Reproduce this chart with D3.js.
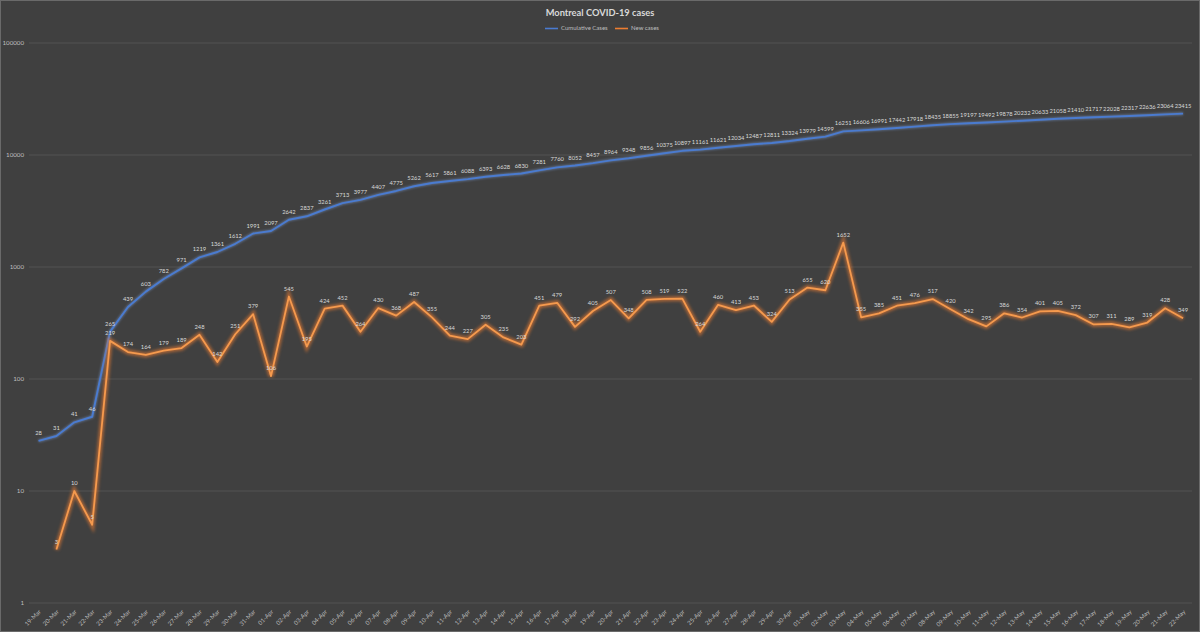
<!DOCTYPE html>
<html>
<head>
<meta charset="utf-8">
<script src="https://cdn.jsdelivr.net/npm/d3@7"></script>
<style>
html,body{margin:0;padding:0;background:#404040;}
svg{display:block;}
</style>
</head>
<body>
<svg id="chart" width="1200" height="632"></svg>
<script>
const dates = ["19-Mar","20-Mar","21-Mar","22-Mar","23-Mar","24-Mar","25-Mar","26-Mar","27-Mar","28-Mar","29-Mar","30-Mar","31-Mar",
"01-Apr","02-Apr","03-Apr","04-Apr","05-Apr","06-Apr","07-Apr","08-Apr","09-Apr","10-Apr","11-Apr","12-Apr","13-Apr","14-Apr","15-Apr",
"16-Apr","17-Apr","18-Apr","19-Apr","20-Apr","21-Apr","22-Apr","23-Apr","24-Apr","25-Apr","26-Apr","27-Apr","28-Apr","29-Apr","30-Apr",
"01-May","02-May","03-May","04-May","05-May","06-May","07-May","08-May","09-May","10-May","11-May","12-May","13-May","14-May","15-May",
"16-May","17-May","18-May","19-May","20-May","21-May","22-May"];

const cumulative = [28,31,41,46,265,439,603,782,971,1219,1361,1612,1991,
2097,2642,2837,3261,3713,3977,4407,4775,5262,5617,5861,6088,6393,6628,6830,
7281,7760,8052,8457,8964,9348,9856,10375,10897,11161,11621,12034,12487,12811,13324,
13979,14599,16251,16606,16991,17442,17918,18435,18855,19197,19492,19878,20232,20633,21058,
21410,21717,22028,22317,22636,23064,23415];

// New cases start on 20-Mar
const newCases = [null,3,10,5,219,174,164,179,189,248,142,251,379,
106,545,195,424,452,264,430,368,487,355,244,227,305,235,203,
451,479,292,405,507,348,508,519,522,264,460,413,453,324,513,
655,620,1652,355,385,451,476,517,420,342,295,386,354,401,405,
372,307,311,289,319,428,349];

const yTicks = [1,10,100,1000,10000,100000];
const title = "Montreal COVID-19 cases";
const seriesNames = ["Cumulative Cases","New cases"];

const W = 1200, H = 632;
const svg = d3.select("#chart");
const font = "Lato, 'Liberation Sans', sans-serif";
const textCol = "#d9d9d9";
const axisCol = "#bfbfbf";

svg.append("rect").attr("x",0.5).attr("y",0.5).attr("width",W-1).attr("height",H-1)
  .attr("fill","#404040").attr("stroke","#6a6a6a").attr("stroke-width",1);

const defs = svg.append("defs");
const f1 = defs.append("filter").attr("id","glow").attr("x","-5%").attr("y","-5%").attr("width","110%").attr("height","110%");
f1.append("feGaussianBlur").attr("stdDeviation",1.6);
const f2 = defs.append("filter").attr("id","glowb").attr("x","-5%").attr("y","-5%").attr("width","110%").attr("height","110%");
f2.append("feGaussianBlur").attr("stdDeviation",0.8);

const x = d3.scalePoint().domain(dates).range([29.6,1192]).padding(0.5);
const y = d3.scaleLog().domain([1,100000]).range([603,43]);

// gridlines
svg.append("g").selectAll("line").data(yTicks).join("line")
  .attr("x1",29).attr("x2",1192)
  .attr("y1",d=>y(d)).attr("y2",d=>y(d))
  .attr("stroke","#525252").attr("stroke-width",1);

// y axis labels
const yAxis = d3.axisLeft(y).tickValues(yTicks).tickFormat(d3.format("d")).tickSize(0).tickPadding(0);
const yg = svg.append("g").attr("transform","translate(24,0)").call(yAxis);
yg.select(".domain").remove();
yg.selectAll("text").attr("fill",axisCol).attr("font-size","6.2px").attr("font-family",font).attr("dy","0.32em");

// x axis labels
const xAxis = d3.axisBottom(x).tickSize(0).tickPadding(0);
const xg = svg.append("g").attr("transform","translate(0,611)").call(xAxis);
xg.select(".domain").remove();
xg.selectAll("text")
  .attr("fill",axisCol).attr("font-size","6px").attr("font-family",font)
  .attr("text-anchor","end").attr("dy","0.3em").attr("dx","0")
  .attr("transform","translate(1,0) rotate(-45)");

// lines
const lineC = d3.line().x((d,i)=>x(dates[i])).y(d=>y(d));
const lineN = d3.line().defined(d=>d!=null).x((d,i)=>x(dates[i])).y(d=>y(d));

svg.append("path").datum(cumulative).attr("d",lineC)
  .attr("fill","none").attr("stroke","#7fa3e0").attr("stroke-width",3.2).attr("opacity",0.45).attr("filter","url(#glowb)");
svg.append("path").datum(cumulative).attr("d",lineC)
  .attr("fill","none").attr("stroke","#4a7bd0").attr("stroke-width",1.9).attr("stroke-linejoin","round");

svg.append("path").datum(newCases).attr("d",lineN)
  .attr("fill","none").attr("stroke","#ed7d31").attr("stroke-width",5).attr("opacity",0.6).attr("filter","url(#glow)");
svg.append("path").datum(newCases).attr("d",lineN)
  .attr("fill","none").attr("stroke","#f59a4e").attr("stroke-width",1.8).attr("stroke-linejoin","round");

// data labels
svg.append("g").selectAll("text").data(cumulative).join("text")
  .attr("x",(d,i)=>x(dates[i])).attr("y",d=>y(d)-6)
  .attr("text-anchor","middle").attr("fill",textCol)
  .attr("font-size","5.8px").attr("font-family",font)
  .text(d=>d);

svg.append("g").selectAll("text").data(newCases.map((d,i)=>({d,i})).filter(o=>o.d!=null)).join("text")
  .attr("x",o=>x(dates[o.i])).attr("y",o=>y(o.d)-6)
  .attr("text-anchor","middle").attr("fill",textCol)
  .attr("font-size","5.8px").attr("font-family",font)
  .text(o=>o.d);

// title
svg.append("text").attr("x",600).attr("y",16).attr("text-anchor","middle")
  .attr("fill",textCol).attr("font-size","9.3px").attr("font-weight","bold").attr("font-family",font)
  .text(title);

// legend
const lg = svg.append("g").attr("font-family",font).attr("font-size","6px");
const legendItems = [{name:seriesNames[0],color:"#4a7bd0",x:545},{name:seriesNames[1],color:"#ed7d31",x:615}];
legendItems.forEach(it=>{
  lg.append("line").attr("x1",it.x).attr("x2",it.x+13).attr("y1",28.5).attr("y2",28.5)
    .attr("stroke",it.color).attr("stroke-width",1.6);
  lg.append("text").attr("x",it.x+16).attr("y",28.5).attr("dy","0.33em").attr("fill",axisCol).text(it.name);
});
</script>
</body>
</html>
